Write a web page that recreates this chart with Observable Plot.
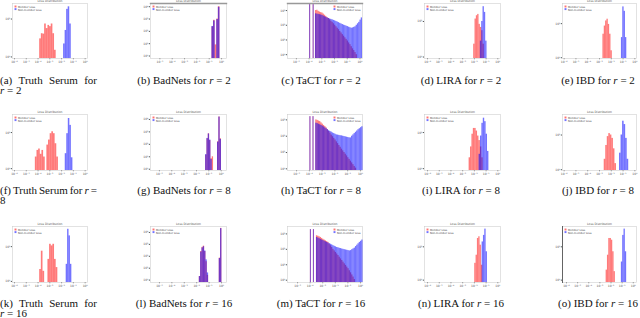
<!DOCTYPE html>
<html><head><meta charset="utf-8">
<script src="https://cdn.jsdelivr.net/npm/d3@7"></script>
<script src="https://cdn.jsdelivr.net/npm/@observablehq/plot@0.6"></script>
<style>
html,body{margin:0;padding:0;background:#fff;}
body{width:640px;height:318px;overflow:hidden;position:relative;}
.panel{position:absolute;}
.panel svg{display:block;overflow:visible;background:transparent;}
.cap{position:absolute;font-family:"Liberation Serif","Times New Roman",Times,"DejaVu Serif",serif;font-size:11px;line-height:10.5px;color:#111;white-space:nowrap;}
.cap.c{text-align:center;width:150px;}
.cap .l1{display:flex;justify-content:space-between;width:97px;}
</style></head><body>
<script>
// ---- tick values (log10 of loss) ----
const expTicks7 = [-6,-5,-4,-3,-2,-1,0];
const expTicks6 = [-5,-4,-3,-2,-1,0];
const yTicks2 = [1,10];
const yTicks4 = [1,10,100,1000];
const yTicks5 = [1,10,100,1000,10000];

// ---- legend / title text ----
const legendLabels = ["Member Loss","Non-member Loss"];
const panelTitle = "Loss Distribution";

// ---- captions ----
const capLetters = ["a","b","c","d","e","f","g","h","i","j","k","l","m","n","o"];
const methods = ["Truth Serum","BadNets","TaCT","LIRA","IBD"];
const rValues = [2,8,16];

// ---- histogram counts (bin start in log10 loss, counts per bin) ----
// (a) Truth Serum r=2
const a_red_start = -3.86, a_red = [3.0,4.1,4.0,7.4,5.6,6.8,6.3,7.4,4.1,1.5];
const a_blue_start = -1.83, a_blue = [2.2,5.0,18,21,7.4];
// (b) BadNets r=2
const b_start = -0.78;
const b_red = [230,790,8,1000,10000];
const b_blue = [250,700,0,900,9000];
// (c) TaCT r=2
const c_start = -3.5;
const c_red = [1000,1050,890,790,720,680,575,480,400,330,290,235,190,160,126,100,79,63,50,38,30,23,18,14,11,8.5,6.3,4.8,3.5,2.5,1.9,1.4,1];
const c_blue = [600,575,550,525,500,470,425,380,345,316,290,270,250,235,215,200,182,166,151,135,123,112,102,95,87,81,74,68,63,66,72,79,100,126,158,224,316];
const c_spikes = [-3.95,-3.68], c_spike_count = 2500;
// (d) LIRA r=2
const d_red_start = -2.06, d_red = [2.3,11.7,14.5,15.8,8.3,6.8,5.5,2.3];
const d_blue_start = -1.49, d_blue = [2.8,10,26,18,2.8];
// (e) IBD r=2
const e_red_start = -2.71, e_red = [4.9,8.5,12,13.5,9.5,4.9,1.6];
const e_blue_start = -1.14, e_blue = [3.9,31,23,3.9];
// (f) Truth Serum r=8
const f_red_start = -4.23, f_red = [2.1,3.2,3.5,2.5,3.2,2.1,0,4.5,6.2,9.3,10.5,9.3,4.9,2.1];
const f_blue_start = -1.69, f_blue = [2.6,9.3,24.5,15.8,2.0];
// (g) BadNets r=8
const g_start = -1.26;
const g_red = [13.5,280,710,200,7.1,10,0,0,0,160,16000,280];
const g_blue = [15,300,680,220,6,0,0,0,0,150,15500,250];
// (h) TaCT r=8
const h_start = -3.5;
const h_red = [1000,930,850,790,660,550,457,389,324,251,195,155,117,93,74,59,45,35,27,21,16,12.6,10,7.9,6.2,4.8,3.8,2.95,2.3,1.8,1.4,1.1];
const h_blue = [630,590,540,500,457,417,372,324,288,251,219,195,178,158,145,132,120,117,112,107,105,100,95,91,87,83,79,79,100,120,145,174,209,251,288,331,380];
const h_spikes = [-3.95,-3.71], h_spike_count = 1580;
// (i) LIRA r=8
const i_red_start = -2.45, i_red = [2,4,9,13,13,11,8,6,4,2];
const i_blue_start = -1.6, i_blue = [2.5,8,18,25,20,9,3];
// (j) IBD r=8
const j_red_start = -2.6, j_red = [2,5,9,11,10,8,4,1.5];
const j_blue_start = -1.3, j_blue = [3,10,25,20,8,2];
// (k) Truth Serum r=16
const k_red_start = -3.86, k_red = [2.2,7.4,1.95,0,0,4.3,11.7,10.5,11.7,4.3,2.5];
const k_blue_start = -1.61, k_blue = [3.1,31.6,20.4,3.1];
// (l) BadNets r=16
const l_start = -1.79;
const l_red = [2,250,560,710,250,35,2.5,0,0,0,0,0,0,0,0,70,22000];
const l_blue = [2,224,500,630,280,50,4,0,0,0,0,0,0,0,0,65,21000];
// (m) TaCT r=16
const m_start = -3.5;
const m_red = [760,710,650,590,510,447,400,355,316,282,219,170,132,100,79,63,50,40,31,24,19,14.8,11.5,9.1,7.1,5.6,4.1,3.0,2.2,1.6,1.1];
const m_blue = [590,540,490,447,407,372,339,309,282,257,234,214,195,174,158,145,132,126,117,112,105,100,95,91,87,83,79,83,95,107,120,151,186,229,282,331,400];
const m_spikes = [-3.98,-3.74], m_spike_count = 1900;
// (n) LIRA r=16
const n_red_start = -1.97, n_red = [3.2,5.6,17.8,20,11.2,2.8];
const n_blue_start = -1.34, n_blue = [14,22,34,7.1];
// (o) IBD r=16
const o_red_start = -2.44, o_red = [2,5.6,17.8,17.8,15.8,7.1,1.8];
const o_blue_start = -1.07, o_blue = [3.5,22,34,7.1];

// ---- helpers ----
function bins(start, w, counts){
  return counts.map((c,i)=>({x1:start+i*w, x2:start+(i+1)*w, y:c})).filter(d=>d.y>0);
}
function spikes(xs, count, w){ return xs.map(x=>({x1:x, x2:x+w, y:count})); }
const sup = {"-":"⁻","0":"⁰","1":"¹","2":"²","3":"³","4":"⁴","5":"⁵","6":"⁶","7":"⁷","8":"⁸","9":"⁹"};
const pow10 = k => "10" + String(k).split("").map(ch=>sup[ch]||ch).join("");

// layout
const colLeft = [12,150,287,424,562];
const colW = [75,76,75,76,74];
const rowTop = [3,114,226];
const rowH = [55,56,56];

const panels = [
 {r:0,c:0,x:[-6.17,0.2],xt:expTicks7,y:[0.91,25.7],yt:yTicks2,red:bins(a_red_start,0.14,a_red),blue:bins(a_blue_start,0.13,a_blue),leg:"left"},
 {r:0,c:1,x:[-5.76,0.4],xt:expTicks6,y:[0.63,18200],yt:yTicks5,red:bins(b_start,0.13,b_red),blue:bins(b_start,0.13,b_blue),leg:"left",topbar:true},
 {r:0,c:2,x:[-5.7,0.2],xt:expTicks6,y:[0.55,3020],yt:yTicks4,red:bins(c_start,0.1,c_red).concat(spikes(c_spikes,c_spike_count,0.07)),blue:bins(c_start,0.1,c_blue).concat(spikes(c_spikes,c_spike_count,0.07)),leg:"right",topbar:true},
 {r:0,c:3,x:[-6.26,0.23],xt:expTicks7,y:[0.91,32],yt:yTicks2,red:bins(d_red_start,0.114,d_red),blue:bins(d_blue_start,0.114,d_blue),leg:"left"},
 {r:0,c:4,x:[-6.14,0.14],xt:expTicks7,y:[0.95,39],yt:yTicks2,red:bins(e_red_start,0.114,e_red),blue:bins(e_blue_start,0.114,e_blue),leg:"left"},
 {r:1,c:0,x:[-6.17,0.2],xt:expTicks7,y:[0.89,31.6],yt:yTicks2,red:bins(f_red_start,0.14,f_red),blue:bins(f_blue_start,0.13,f_blue),leg:"left"},
 {r:1,c:1,x:[-5.72,0.43],xt:expTicks6,y:[0.79,25000],yt:yTicks5,red:bins(g_start,0.107,g_red),blue:bins(g_start,0.107,g_blue),leg:"left"},
 {r:1,c:2,x:[-5.71,0.16],xt:expTicks6,y:[0.79,2140],yt:yTicks4,red:bins(h_start,0.1,h_red).concat(spikes(h_spikes,h_spike_count,0.07)),blue:bins(h_start,0.1,h_blue).concat(spikes(h_spikes,h_spike_count,0.07)),leg:"right"},
 {r:1,c:3,x:[-6.26,0.23],xt:expTicks7,y:[0.89,31.6],yt:yTicks2,red:bins(i_red_start,0.12,i_red),blue:bins(i_blue_start,0.12,i_blue),leg:"left"},
 {r:1,c:4,x:[-6.14,0.14],xt:expTicks7,y:[0.95,39],yt:yTicks2,red:bins(j_red_start,0.13,j_red),blue:bins(j_blue_start,0.13,j_blue),leg:"left"},
 {r:2,c:0,x:[-6.17,0.2],xt:expTicks7,y:[0.93,38],yt:yTicks2,red:bins(k_red_start,0.14,k_red),blue:bins(k_blue_start,0.12,k_blue),leg:"left"},
 {r:2,c:1,x:[-5.72,0.4],xt:expTicks6,y:[0.63,31600],yt:yTicks5,red:bins(l_start,0.107,l_red),blue:bins(l_start,0.107,l_blue),leg:"left"},
 {r:2,c:2,x:[-5.8,0.16],xt:expTicks6,y:[0.71,3020],yt:yTicks4,red:bins(m_start,0.1,m_red).concat(spikes(m_spikes,m_spike_count,0.07)),blue:bins(m_start,0.1,m_blue).concat(spikes(m_spikes,m_spike_count,0.07)),leg:"right"},
 {r:2,c:3,x:[-6.26,0.23],xt:expTicks7,y:[0.85,40.7],yt:yTicks2,red:bins(n_red_start,0.114,n_red),blue:bins(n_blue_start,0.114,n_blue),leg:"left"},
 {r:2,c:4,x:[-6.36,0.29],xt:expTicks7,y:[0.85,40.7],yt:yTicks2,red:bins(o_red_start,0.119,o_red),blue:bins(o_blue_start,0.119,o_blue),leg:"left",spine:true}
];

const ML=12, MR=2, MT=3, MB=8;
panels.forEach(p=>{
  const W = colW[p.c], H = rowH[p.r];
  const ymin = p.y[0];
  const legL = p.leg==="left";
  const anchor = legL ? "top-left" : "top-right";
  const sx = legL ? 1 : -1;
  const marks = [
    Plot.frame({stroke:"#cfcfcf", strokeWidth:0.6}),
    p.topbar ? Plot.frame({anchor:"top", stroke:"#999", strokeWidth:1.4}) : null,
    p.spine ? Plot.frame({anchor:"left", stroke:"#444", strokeWidth:0.8}) : null,
    Plot.rect(p.red, {x1:"x1", x2:"x2", y1:()=>ymin, y2:"y", fill:"#ff0000", fillOpacity:0.52}),
    Plot.rect(p.blue, {x1:"x1", x2:"x2", y1:()=>ymin, y2:"y", fill:"#0000ff", fillOpacity:0.55}),
    Plot.text([panelTitle], {frameAnchor:"top", dy:-1.6, fontSize:3, fill:"#555", lineAnchor:"bottom"}),
    Plot.dot([0], {frameAnchor:anchor, dx:sx*(legL?3:28), dy:3, symbol:"square", r:1.1, fill:"#ff0000", fillOpacity:0.55, stroke:null}),
    Plot.dot([0], {frameAnchor:anchor, dx:sx*(legL?3:28), dy:5.6, symbol:"square", r:1.1, fill:"#0000ff", fillOpacity:0.55, stroke:null}),
    Plot.text([legendLabels[0]], {frameAnchor:anchor, dx:legL?5.5:-25.5, dy:3, fontSize:2.6, fill:"#444", textAnchor:"start"}),
    Plot.text([legendLabels[1]], {frameAnchor:anchor, dx:legL?5.5:-25.5, dy:5.6, fontSize:2.6, fill:"#444", textAnchor:"start"})
  ].filter(Boolean);
  const svg = Plot.plot({
    width: ML+W+MR, height: MT+H+MB,
    marginLeft:ML, marginRight:MR, marginTop:MT, marginBottom:MB,
    style:{fontSize:"3px", fontFamily:"DejaVu Sans, sans-serif", color:"#555", background:"transparent"},
    x:{domain:p.x, ticks:p.xt, tickFormat:pow10, tickSize:1.2, tickPadding:1, label:null},
    y:{type:"log", domain:p.y, ticks:p.yt, tickFormat:d=>pow10(Math.round(Math.log10(d))), tickSize:1.2, tickPadding:1, label:null},
    marks
  });
  const div = document.createElement("div");
  div.className = "panel";
  div.style.left = (colLeft[p.c]-ML)+"px";
  div.style.top = (rowTop[p.r]-MT)+"px";
  div.appendChild(svg);
  document.body.appendChild(div);
});

// captions
const capTop = [74.5, 184.5, 297.5];
const capCenter = [null,184,321,461,598];
rValues.forEach((r,ri)=>{
  methods.forEach((m,ci)=>{
    const letter = capLetters[ri*5+ci];
    const d = document.createElement("div");
    d.className = "cap";
    d.style.top = capTop[ri]+"px";
    if(ci===0){
      d.style.left = "0px";
      if(ri===1){
        d.innerHTML = `<div class="l1"><span>(${letter})</span><span>Truth</span><span>Serum</span><span>for</span><span><i>r</i></span><span>=</span></div><div>${r}</div>`;
      } else {
        d.innerHTML = `<div class="l1"><span>(${letter})</span><span>Truth</span><span>Serum</span><span>for</span></div><div><i>r</i> = ${r}</div>`;
      }
    } else {
      d.classList.add("c");
      d.style.left = (capCenter[ci]-75)+"px";
      d.innerHTML = `(${letter}) ${m} for <i>r</i> = ${r}`;
    }
    document.body.appendChild(d);
  });
});
</script></body></html>
